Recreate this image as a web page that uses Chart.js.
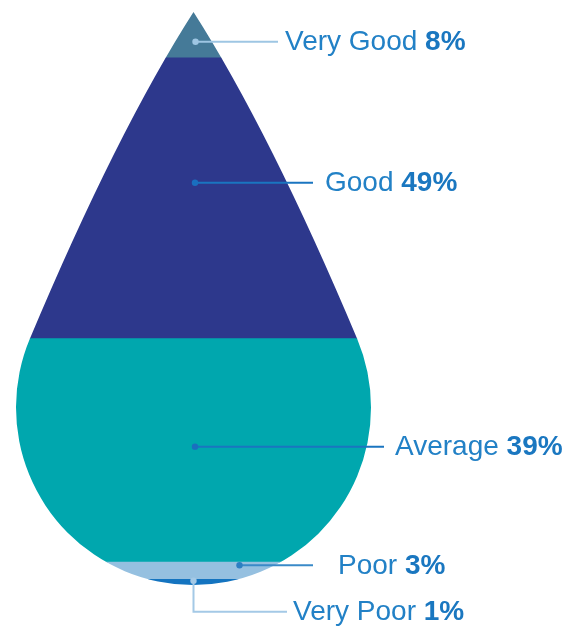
<!DOCTYPE html>
<html>
<head>
<meta charset="utf-8">
<script src="https://cdn.jsdelivr.net/npm/chart.js@4"></script>
<style>
  html, body { margin: 0; padding: 0; background: #fff; }
  #wrap { width: 585px; height: 627px; position: relative; }
</style>
</head>
<body>
<div id="wrap"><canvas id="dropChart"></canvas></div>
<script>
// bottom to top, same order as the stack
const categories = ['Very Poor', 'Poor', 'Average', 'Good', 'Very Good'];
const shares = [1, 3, 39, 49, 8];
const shareLabels = ['1%', '3%', '39%', '49%', '8%'];
const bandColors = ['#1474c0', '#95c0e0', '#00a7ae', '#2d388c', '#457a98'];

const ctx = document.getElementById('dropChart');

// drop outline built from the chart area
function dropPath(c, area) {
    const cx = (area.left + area.right) / 2;
    const r = (area.right - area.left) / 2;
    const cy = area.bottom - r;
    const phi = Math.atan(0.42);
    const s0 = 0.64;
    const tlx = cx - r * Math.cos(phi), tly = cy - r * Math.sin(phi);
    const trx = cx + r * Math.cos(phi);
    const py = (cx + s0 * area.top - tlx - Math.tan(phi) * tly) / (s0 - Math.tan(phi));
    const pxl = cx - s0 * (py - area.top);
    const pxr = cx + s0 * (py - area.top);
    c.beginPath();
    c.moveTo(cx, area.top);
    c.quadraticCurveTo(pxl, py, tlx, tly);
    c.arc(cx, cy, r, Math.PI + phi, -phi, true);
    c.quadraticCurveTo(pxr, py, cx, area.top);
    c.closePath();
}

const dropClip = {
    id: 'dropClip',
    beforeDatasetsDraw(chart) {
        chart.ctx.save();
        dropPath(chart.ctx, chart.chartArea);
        chart.ctx.clip();
    },
    afterDatasetsDraw(chart) {
        chart.ctx.restore();
    }
};

const leaders = {
    id: 'leaders',
    afterDraw(chart, args, opts) {
        const c = chart.ctx;
        c.save();
        opts.items.forEach((it, i) => {
            if (!it) return;
            const el = chart.getDatasetMeta(i).data[0];
            const dx = el.x + it.dx;
            const dy = (el.y + el.base) / 2 + it.dy;
            c.strokeStyle = it.line;
            c.lineWidth = 2;
            c.beginPath();
            c.moveTo(dx, dy);
            let ty = dy;
            if (it.drop) {
                ty = dy + it.drop;
                c.lineTo(dx, ty);
            }
            c.lineTo(it.lineEnd, ty);
            c.stroke();
            c.fillStyle = it.dot;
            c.beginPath();
            c.arc(dx, dy, 3.2, 0, Math.PI * 2);
            c.fill();

            c.textBaseline = 'middle';
            c.textAlign = 'left';
            c.font = '28px "Liberation Sans", Arial, sans-serif';
            c.fillStyle = '#2281c6';
            const name = categories[i] + ' ';
            c.fillText(name, it.textX, ty + 1);
            const w = c.measureText(name).width;
            c.font = 'bold 28px "Liberation Sans", Arial, sans-serif';
            c.fillStyle = '#1a77c0';
            c.fillText(shareLabels[i], it.textX + w, ty + 1);
        });
        c.restore();
    }
};

new Chart(ctx, {
    type: 'bar',
    data: {
        labels: [''],
        datasets: categories.map((name, i) => ({
            label: name,
            data: [shares[i]],
            backgroundColor: bandColors[i],
            borderWidth: 0,
            barPercentage: 1,
            categoryPercentage: 1
        }))
    },
    options: {
        responsive: true,
        maintainAspectRatio: false,
        animation: false,
        layout: { padding: { left: 16, right: 214, top: 12, bottom: 42 } },
        scales: {
            x: { stacked: true, display: false },
            y: { stacked: true, display: false, min: 0, max: 100 }
        },
        plugins: {
            legend: { display: false },
            tooltip: { enabled: false },
            leaders: {
                items: [
                    { dx: 0, dy: -1.5, drop: 31, lineEnd: 287, textX: 293, line: '#a4c9e6', dot: '#a4c9e6' },
                    { dx: 46, dy: -5.4, lineEnd: 313, textX: 338, line: '#3a8ac8', dot: '#2d7fc2' },
                    { dx: 1.5, dy: -3.7, lineEnd: 384, textX: 395, line: '#1a75c0', dot: '#1a6fbf' },
                    { dx: 1.5, dy: -15.5, lineEnd: 313, textX: 325, line: '#1a75c0', dot: '#1a6fbf' },
                    { dx: 2, dy: 6.8, lineEnd: 278, textX: 285, line: '#9ec6e3', dot: '#9ec6e3' }
                ]
            }
        }
    },
    plugins: [dropClip, leaders]
});
</script>
</body>
</html>
